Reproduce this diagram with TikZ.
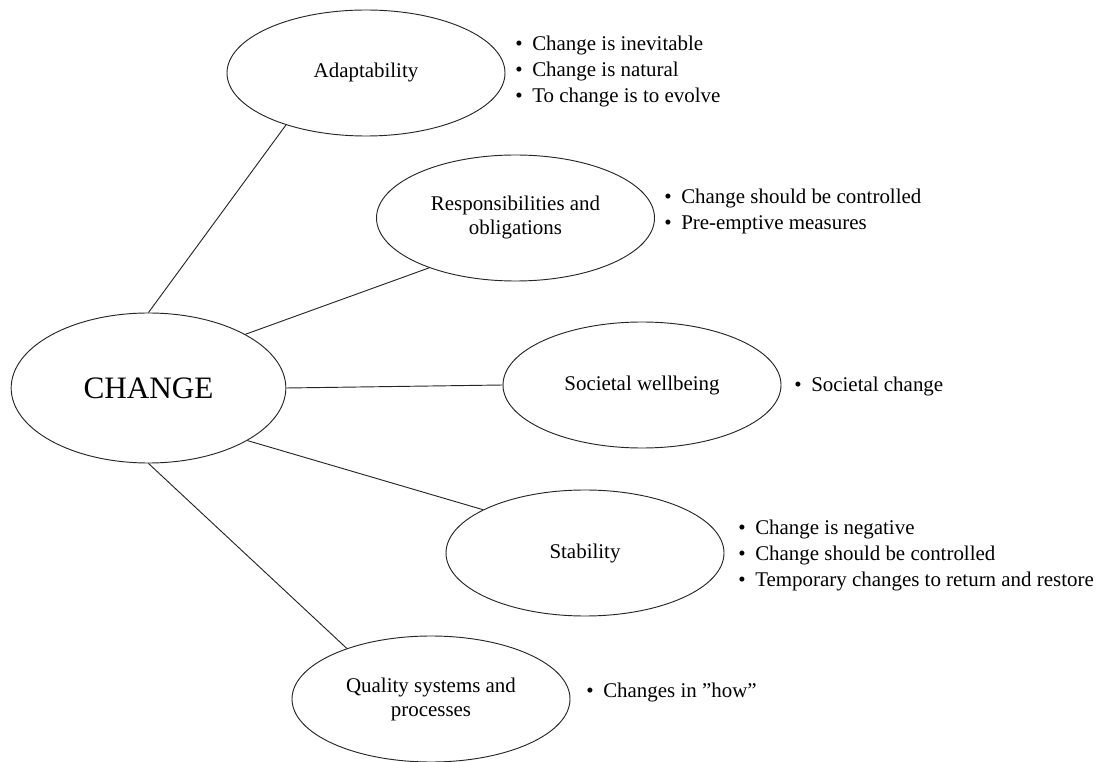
\documentclass[tikz,border=0pt]{standalone}
\usepackage{fontspec}
\setmainfont{Liberation Serif}
\usetikzlibrary{shapes.geometric}
\newcommand{\bul}{\makebox[12.75pt][l]{\textbullet}}
\begin{document}
\begin{tikzpicture}[x=0.75pt,y=-0.75pt,
  oval/.style={draw=black!85,line width=0.7pt,ellipse,inner sep=0pt,
    minimum width=208.5pt,minimum height=94.5pt,align=center,
    font=\fontsize{15.7}{18}\selectfont},
  bigoval/.style={oval,minimum width=206pt,minimum height=112.5pt,
    font=\fontsize{23.4}{26}\selectfont},
  bullets/.style={anchor=west,inner sep=0pt,align=left,
    font=\fontsize{15.7}{19.5}\selectfont},
  link/.style={draw=black!85,line width=0.7pt}]
\useasboundingbox (0,0) rectangle (1099,762);
\node[bigoval] (change) at (148.5,388) {CHANGE};
\node[oval] (adapt) at (366,73) {Adaptability};
\node[oval] (resp) at (515.5,218) {Responsibilities and\\obligations};
\node[oval] (soc) at (642,385) {Societal wellbeing};
\node[oval] (stab) at (585,553) {Stability};
\node[oval] (qual) at (431,699) {Quality systems and\\processes};

\node[bullets] (adaptb) at (515,71.5) {\bul Change is inevitable\\\bul Change is natural\\\bul To change is to evolve};
\node[bullets] (respb) at (664,211.5) {\bul Change should be controlled\\\bul Pre-emptive measures};
\node[bullets] (socb) at (794,386) {\bul Societal change};
\node[bullets] (stabb) at (738,555) {\bul Change is negative\\\bul Change should be controlled\\\bul Temporary changes to return and restore};
\node[bullets] (qualb) at (586,692) {\bul Changes in ”how”};

\draw[link] (change.90) -- (adapt.213.7);
\draw[link] (change.29) -- (resp.210.6);
\draw[link] (change.0) -- (soc.180);
\draw[link] (change.-28) -- (stab.157.6);
\draw[link] (change.-90) -- (qual.149.8);
\end{tikzpicture}
\end{document}
